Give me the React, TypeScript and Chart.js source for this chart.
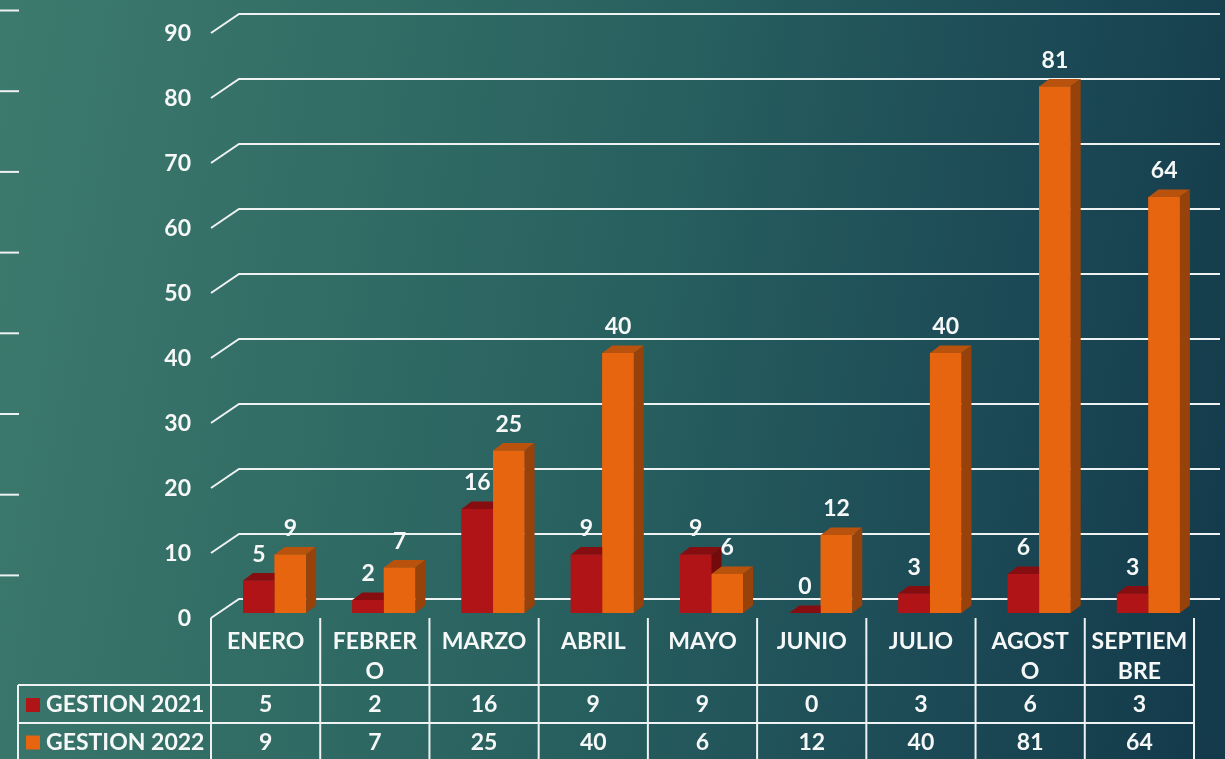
import React, { useEffect, useRef } from "react";
import { Chart, registerables } from "chart.js";

Chart.register(...registerables);

// ---------- DATA ----------
const categories = ["ENERO", "FEBRERO", "MARZO", "ABRIL", "MAYO", "JUNIO", "JULIO", "AGOSTO", "SEPTIEMBRE"];
const categoryLines = [["ENERO"], ["FEBRER", "O"], ["MARZO"], ["ABRIL"], ["MAYO"], ["JUNIO"], ["JULIO"], ["AGOST", "O"], ["SEPTIEM", "BRE"]];
const seriesNames = ["GESTION 2021", "GESTION 2022"];
const gestion2021 = [5, 2, 16, 9, 9, 0, 3, 6, 3];
const gestion2022 = [9, 7, 25, 40, 6, 12, 40, 81, 64];
const yTicks = [0, 10, 20, 30, 40, 50, 60, 70, 80, 90];

// ---------- STYLE ----------
const FONT = "bold 23px Lato";
const WHITE = "#f6f8f8";
const LINE = "#eef2f2";
const BAR_DX = 10;
const BAR_DY = -7.5;
const PLANE_SHIFT = 9; // bar plane vs front plane (x)
const GRID_FRONT = 5;
const GRID_BACK = -14;
const GRID_DX = 28;
const seriesColors = [
  { front: "#b01416", top: "#870e10", side: "#730b0c" },
  { front: "#e8650f", top: "#b9520c", side: "#96420a" },
];

const threeDPlugin = {
  id: "threeD",
  beforeDatasetsDraw(chart: any) {
    const ctx = chart.ctx;
    const y = chart.scales.y;
    const area = chart.chartArea;
    const tableLeft = area.left - PLANE_SHIFT;
    ctx.save();
    // decorative side marks
    ctx.strokeStyle = LINE;
    ctx.lineWidth = 2;
    for (let i = 0; i < 8; i++) {
      const yy = 10.5 + i * 80.7;
      ctx.beginPath();
      ctx.moveTo(0, yy);
      ctx.lineTo(19, yy);
      ctx.stroke();
    }
    // 3D gridlines
    yTicks.forEach((v) => {
      const py = y.getPixelForValue(v);
      ctx.beginPath();
      ctx.moveTo(tableLeft, py + GRID_FRONT);
      ctx.lineTo(tableLeft + GRID_DX, py + GRID_BACK);
      ctx.lineTo(1220, py + GRID_BACK);
      ctx.stroke();
    });
    // y labels
    ctx.fillStyle = WHITE;
    ctx.font = FONT;
    ctx.textAlign = "right";
    ctx.textBaseline = "middle";
    yTicks.forEach((v) => {
      const py = y.getPixelForValue(v);
      ctx.fillText(String(v), 191, py + GRID_FRONT + 1);
    });
    ctx.restore();
  },
  afterDatasetsDraw(chart: any) {
    const ctx = chart.ctx;
    ctx.save();
    [0, 1].forEach((di) => {
      const meta = chart.getDatasetMeta(di);
      const c = seriesColors[di];
      meta.data.forEach((el: any) => {
        const { x, y, base, width } = el.getProps(["x", "y", "base", "width"], true);
        const l = x - width / 2;
        const r = x + width / 2;
        // front
        ctx.fillStyle = c.front;
        ctx.fillRect(l, y, width, base - y);
        // top
        ctx.fillStyle = c.top;
        ctx.beginPath();
        ctx.moveTo(l, y);
        ctx.lineTo(r, y);
        ctx.lineTo(r + BAR_DX, y + BAR_DY);
        ctx.lineTo(l + BAR_DX, y + BAR_DY);
        ctx.closePath();
        ctx.fill();
        // side
        ctx.fillStyle = c.side;
        ctx.beginPath();
        ctx.moveTo(r, y);
        ctx.lineTo(r + BAR_DX, y + BAR_DY);
        ctx.lineTo(r + BAR_DX, base + BAR_DY);
        ctx.lineTo(r, base);
        ctx.closePath();
        ctx.fill();
      });
    });
    // data labels
    ctx.fillStyle = WHITE;
    ctx.font = FONT;
    ctx.textAlign = "center";
    ctx.textBaseline = "middle";
    [0, 1].forEach((di) => {
      const meta = chart.getDatasetMeta(di);
      const vals = chart.data.datasets[di].data;
      meta.data.forEach((el: any, i: number) => {
        ctx.fillText(String(vals[i]), el.x, el.y - 26);
      });
    });
    ctx.restore();
  },
  afterDraw(chart: any) {
    const ctx = chart.ctx;
    const area = chart.chartArea;
    const xs = chart.scales.x;
    const y = chart.scales.y;
    const n = categories.length;
    const colW = (area.right - area.left) / n;
    const tableLeft = area.left - PLANE_SHIFT;
    const tableRight = tableLeft + n * colW;
    const tableTop = y.getPixelForValue(0) + GRID_FRONT;
    const row1 = 685;
    const row2 = 723;
    const bottom = 760;
    const legendLeft = 18;
    ctx.save();
    ctx.strokeStyle = LINE;
    ctx.lineWidth = 2;
    for (let i = 0; i <= n; i++) {
      const xx = tableLeft + i * colW;
      ctx.beginPath();
      ctx.moveTo(xx, tableTop);
      ctx.lineTo(xx, bottom);
      ctx.stroke();
    }
    ctx.beginPath();
    ctx.moveTo(legendLeft, row1);
    ctx.lineTo(legendLeft, bottom);
    ctx.stroke();
    [row1, row2].forEach((ry) => {
      ctx.beginPath();
      ctx.moveTo(legendLeft, ry);
      ctx.lineTo(tableRight, ry);
      ctx.stroke();
    });
    ctx.fillStyle = WHITE;
    ctx.font = FONT;
    ctx.textAlign = "center";
    ctx.textBaseline = "middle";
    for (let i = 0; i < n; i++) {
      const cx = xs.getPixelForValue(i) - PLANE_SHIFT;
      categoryLines[i].forEach((line, li) => {
        ctx.fillText(line, cx, 642 + li * 30);
      });
      ctx.fillText(String(gestion2021[i]), cx, (row1 + row2) / 2 + 1);
      ctx.fillText(String(gestion2022[i]), cx, row2 + 19.5);
    }
    // legend keys
    const rowsY = [(row1 + row2) / 2 + 1, row2 + 19.5];
    seriesNames.forEach((name, si) => {
      ctx.fillStyle = seriesColors[si].front;
      ctx.fillRect(26, rowsY[si] - 7, 14, 14);
      ctx.fillStyle = WHITE;
      ctx.textAlign = "left";
      ctx.fillText(name, 46, rowsY[si]);
    });
    ctx.restore();
  },
};

export default function App() {
  const ref = useRef<HTMLCanvasElement>(null);
  useEffect(() => {
    if (!ref.current) return;
    const chart = new Chart(ref.current, {
      type: "bar",
      data: {
        labels: categories,
        datasets: [
          { label: seriesNames[0], data: gestion2021, backgroundColor: seriesColors[0].front, borderWidth: 0, categoryPercentage: 0.577, barPercentage: 1 },
          { label: seriesNames[1], data: gestion2022, backgroundColor: seriesColors[1].front, borderWidth: 0, categoryPercentage: 0.577, barPercentage: 1 },
        ],
      },
      options: {
        animation: false,
        responsive: true,
        maintainAspectRatio: false,
        layout: { padding: { left: 220, right: 22, top: 28, bottom: 146 } },
        plugins: { legend: { display: false }, tooltip: { enabled: false }, title: { display: false } },
        scales: {
          x: { display: false, grid: { display: false } },
          y: { display: false, min: 0, max: 90, grid: { display: false } },
        },
      },
      plugins: [threeDPlugin],
    });
    return () => chart.destroy();
  }, []);
  return (
    <div
      style={{
        position: "fixed",
        left: 0,
        top: 0,
        width: 1225,
        height: 759,
        background:
          "linear-gradient(100deg, #3d7a6e 0%, #336e66 25%, #28605f 50%, #1d4c57 75%, #13394a 100%)",
      }}
    >
      <canvas ref={ref} />
    </div>
  );
}
